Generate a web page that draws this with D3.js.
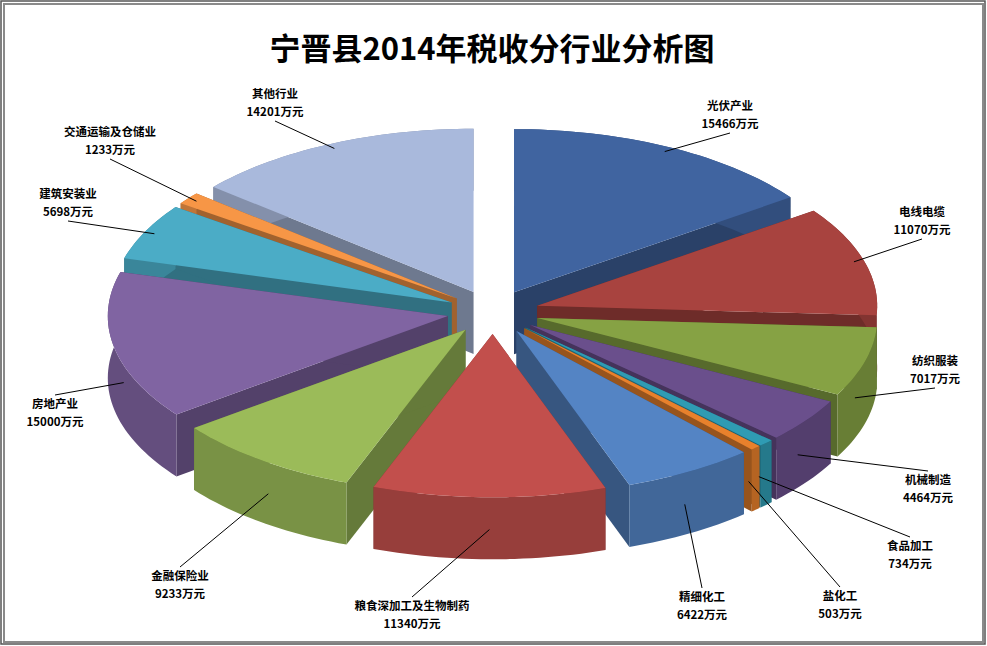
<!DOCTYPE html>
<html lang="zh">
<head>
<meta charset="utf-8">
<script src="https://cdnjs.cloudflare.com/ajax/libs/d3/7.8.5/d3.min.js"></script>
<style>
  body { margin: 0; background: #fff; }
  text { font-family: "Noto Sans CJK SC", sans-serif; }
</style>
</head>
<body>
<svg id="chart" width="987" height="646"></svg>
<script>
// data (万元)
var industries = ["光伏产业", "电线电缆", "纺织服装", "机械制造", "食品加工", "盐化工", "精细化工",
                  "粮食深加工及生物制药", "金融保险业", "房地产业", "建筑安装业", "交通运输及仓储业", "其他行业"];
var taxValues = [15466, 11070, 7017, 4464, 734, 503, 6422, 11340, 9233, 15000, 5698, 1233, 14201];
var sliceColors = ["#4064a0", "#a8433f", "#86a244", "#6a4f8c", "#2f9bb3", "#e8812c", "#5484c4",
                   "#c24f4c", "#9bbb59", "#8064a2", "#4bacc6", "#f79646", "#a9b9dc"];
// label placement (text centre) for each slice
var labelPos = [[730, 110], [922, 216], [935, 365], [928, 484], [910, 550], [840, 600], [702, 601],
                [412, 610], [180, 580], [55, 408], [68, 198], [110, 136], [275, 98]];

var svg = d3.select("#chart");
var W = 987, H = 646;

// frame
svg.append("rect").attr("x", 4).attr("y", 4).attr("width", W - 8).attr("height", H - 8)
  .attr("fill", "#fff").attr("stroke", "#8a8a8a").attr("stroke-width", 2);
svg.append("rect").attr("x", 1).attr("y", 1).attr("width", W - 3).attr("height", H - 3)
  .attr("fill", "none").attr("stroke", "#555").attr("stroke-width", 1.5);

svg.append("text").attr("x", 492).attr("y", 60).attr("text-anchor", "middle")
  .attr("font-size", 31).attr("font-weight", "bold").attr("fill", "#000")
  .text("宁晋县2014年税收分行业分析图");

var cx = 493, cy = 312, r = 340, k = 0.48, depth = 62, explode = 46;

function pt(a, rad, ox, oy, dz) {
  return [ox + rad * Math.sin(a), oy - rad * Math.cos(a) * k + (dz || 0)];
}

var arcs = d3.pie().sort(null).value(function (d) { return d; })(taxValues);
arcs.forEach(function (d, i) {
  d.i = i;
  d.mid = (d.startAngle + d.endAngle) / 2;
  d.ox = cx + explode * Math.sin(d.mid);
  d.oy = cy - explode * Math.cos(d.mid) * k;
});

function arcPts(d, dz, reverse) {
  var n = Math.max(4, Math.ceil((d.endAngle - d.startAngle) * 40)), out = [];
  for (var j = 0; j <= n; j++) {
    var a = d.startAngle + (d.endAngle - d.startAngle) * j / n;
    out.push(pt(a, r, d.ox, d.oy, dz));
  }
  return reverse ? out.reverse() : out;
}

var line = d3.line();
var order = arcs.slice().sort(function (a, b) { return a.oy - b.oy; });

var g = svg.append("g");
order.forEach(function (d) {
  var base = d3.color(sliceColors[d.i]);
  var dark = base.darker(1.2), side = base.darker(0.7);
  var c0 = [d.ox, d.oy], c1 = [d.ox, d.oy + depth];
  [d.startAngle, d.endAngle].forEach(function (a) {
    var e0 = pt(a, r, d.ox, d.oy), e1 = pt(a, r, d.ox, d.oy, depth);
    g.append("path").attr("d", line([c0, e0, e1, c1]) + "Z").attr("fill", dark);
  });
  var wall = arcPts(d, 0).concat(arcPts(d, depth, true));
  g.append("path").attr("d", line(wall) + "Z").attr("fill", side);
  var top = [c0].concat(arcPts(d, 0));
  g.append("path").attr("d", line(top) + "Z").attr("fill", base);
});

// labels and leader lines
arcs.forEach(function (d) {
  var p = labelPos[d.i];
  var front = Math.cos(d.mid) < 0;
  var edge = pt(d.mid, r * 0.97, d.ox, d.oy, front ? depth * 0.6 : 0);
  var ly;
  if (edge[1] < p[1] - 14) ly = p[1] - 13;
  else if (edge[1] > p[1] + 22) ly = p[1] + 23;
  else ly = p[1] + 5;
  var lx = p[0];
  if (ly === p[1] + 5) lx = edge[0] > p[0] ? p[0] + 30 : p[0] - 30;
  svg.append("line").attr("x1", lx).attr("y1", ly).attr("x2", edge[0]).attr("y2", edge[1])
    .attr("stroke", "#000").attr("stroke-width", 1);
  var t = svg.append("text").attr("text-anchor", "middle").attr("font-size", 11.5)
    .attr("font-weight", "bold").attr("fill", "#000");
  t.append("tspan").attr("x", p[0]).attr("y", p[1]).text(industries[d.i]);
  t.append("tspan").attr("x", p[0]).attr("y", p[1] + 18).text(taxValues[d.i] + "万元");
});
</script>
</body>
</html>
